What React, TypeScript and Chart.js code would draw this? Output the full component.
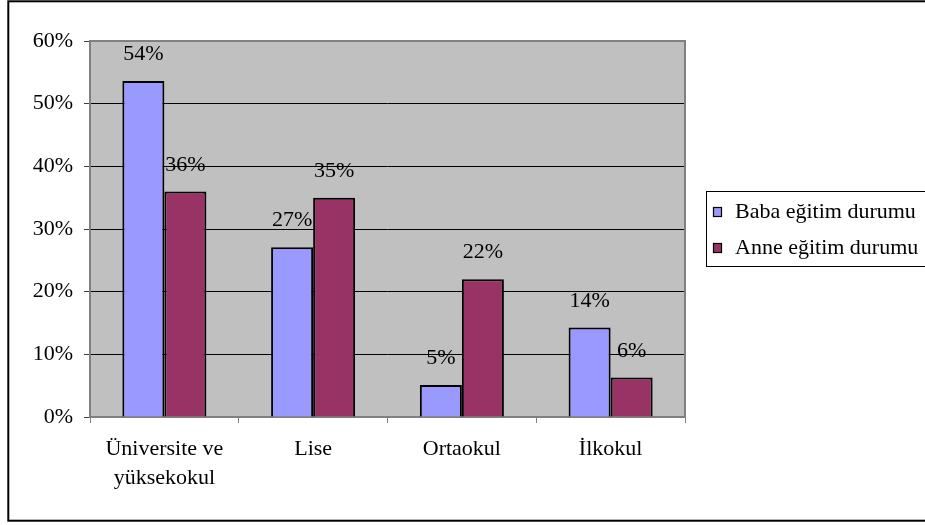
import React, { useEffect, useRef } from "react";
import { Chart, registerables } from "chart.js";

Chart.register(...registerables);

// Education level categories (x axis)
const categories: (string | string[])[] = [["Üniversite ve", "yüksekokul"], "Lise", "Ortaokul", "İlkokul"];
// Series names
const seriesNames = ["Baba eğitim durumu", "Anne eğitim durumu"];
// Shares per category (fractions of 1)
const babaValues = [0.536, 0.271, 0.051, 0.143];
const anneValues = [0.36, 0.35, 0.22, 0.063];
// Y axis ticks
const yTicks = [0, 0.1, 0.2, 0.3, 0.4, 0.5, 0.6];

const seriesColors = ["#9999FF", "#993366"];
const FONT_FAMILY = '"Liberation Serif", "Times New Roman", serif';
const FONT_SIZE = 22;
const pct = (v: number) => Math.round(v * 100) + "%";

const chartDecor = {
  id: "chartDecor",
  beforeDraw(chart: any) {
    const { ctx, chartArea: a } = chart;
    ctx.save();
    ctx.fillStyle = "#ffffff";
    ctx.fillRect(0, 0, chart.width, chart.height);
    // outer chart border (open to the right)
    ctx.strokeStyle = "#000000";
    ctx.lineWidth = 2;
    ctx.strokeRect(8.3, 1.3, chart.width + 20, 519.4);
    // plot background
    ctx.fillStyle = "#C0C0C0";
    ctx.fillRect(a.left, a.top, a.right - a.left, a.bottom - a.top);
    ctx.restore();
  },
  beforeDatasetsDraw(chart: any) {
    const { ctx, chartArea: a } = chart;
    ctx.save();
    ctx.strokeStyle = "#808080";
    ctx.lineWidth = 2;
    ctx.strokeRect(a.left, a.top, a.right - a.left, a.bottom - a.top);
    ctx.restore();
  },
  afterDatasetsDraw(chart: any) {
    const { ctx } = chart;
    ctx.save();
    ctx.font = `${FONT_SIZE}px ${FONT_FAMILY}`;
    ctx.fillStyle = "#000000";
    ctx.textAlign = "center";
    ctx.textBaseline = "middle";
    chart.data.datasets.forEach((ds: any, di: number) => {
      const meta = chart.getDatasetMeta(di);
      meta.data.forEach((bar: any, i: number) => {
        ctx.fillText(pct(ds.data[i]), bar.x, bar.y - 26.5);
      });
    });
    ctx.restore();
  },
  afterDraw(chart: any) {
    const { ctx } = chart;
    ctx.save();
    // legend box
    const lx = 706.5;
    const ly = 191.5;
    ctx.strokeStyle = "#000000";
    ctx.lineWidth = 1;
    ctx.strokeRect(lx, ly, 260, 75);
    ctx.font = `${FONT_SIZE}px ${FONT_FAMILY}`;
    ctx.textAlign = "left";
    ctx.textBaseline = "middle";
    seriesNames.forEach((name, i) => {
      const cy = 212 + i * 36;
      ctx.fillStyle = seriesColors[i];
      ctx.fillRect(713.5, cy - 4.5, 8, 9);
      ctx.strokeStyle = "#000000";
      ctx.lineWidth = 1.2;
      ctx.strokeRect(713.5, cy - 4.5, 8, 9);
      ctx.fillStyle = "#000000";
      ctx.fillText(name, 735, cy);
    });
    ctx.restore();
  },
};

export default function App() {
  const canvasRef = useRef<HTMLCanvasElement | null>(null);

  useEffect(() => {
    document.body.style.margin = "0";
    const canvas = canvasRef.current;
    if (!canvas) return;
    const chart = new Chart(canvas, {
      type: "bar",
      data: {
        labels: categories as any,
        datasets: [
          {
            label: seriesNames[0],
            data: babaValues,
            backgroundColor: seriesColors[0],
            borderColor: "#000000",
            borderWidth: 2,
            barPercentage: 1,
            categoryPercentage: 0.565,
          },
          {
            label: seriesNames[1],
            data: anneValues,
            backgroundColor: seriesColors[1],
            borderColor: "#000000",
            borderWidth: 2,
            barPercentage: 1,
            categoryPercentage: 0.565,
          },
        ],
      },
      options: {
        responsive: false,
        animation: false,
        devicePixelRatio: 1,
        layout: { padding: { left: 0, top: 41, right: 240, bottom: 0 } },
        plugins: {
          legend: { display: false },
          tooltip: { enabled: false },
          title: { display: false },
        },
        scales: {
          x: {
            offset: true,
            afterFit(scale: any) {
              scale.height = 108;
            },
            grid: {
              offset: true,
              drawOnChartArea: false,
              drawTicks: true,
              tickLength: 6,
              tickColor: "#808080",
              lineWidth: 1,
            },
            border: { display: false },
            ticks: {
              color: "#000000",
              padding: 11,
              maxRotation: 0,
              autoSkip: false,
              font: { family: FONT_FAMILY, size: FONT_SIZE, lineHeight: 1.35 },
            },
          },
          y: {
            min: yTicks[0],
            max: yTicks[yTicks.length - 1],
            afterFit(scale: any) {
              scale.width = 90;
            },
            afterBuildTicks(scale: any) {
              scale.ticks = yTicks.map((v) => ({ value: v }));
            },
            grid: {
              color: (ctx: any) =>
                ctx.tick && (ctx.tick.value === 0 || Math.abs(ctx.tick.value - 0.6) < 1e-9)
                  ? "rgba(0,0,0,0)"
                  : "#000000",
              lineWidth: 1,
              drawTicks: true,
              tickLength: 6,
              tickColor: "#404040",
            },
            border: { display: false },
            ticks: {
              color: "#000000",
              padding: 11,
              callback: (v: any) => pct(Number(v)),
              font: { family: FONT_FAMILY, size: FONT_SIZE },
            },
          },
        },
      },
      plugins: [chartDecor],
    });
    return () => chart.destroy();
  }, []);

  return (
    <div style={{ width: 925, height: 525, overflow: "hidden" }}>
      <canvas ref={canvasRef} width={925} height={525} style={{ display: "block" }} />
    </div>
  );
}
